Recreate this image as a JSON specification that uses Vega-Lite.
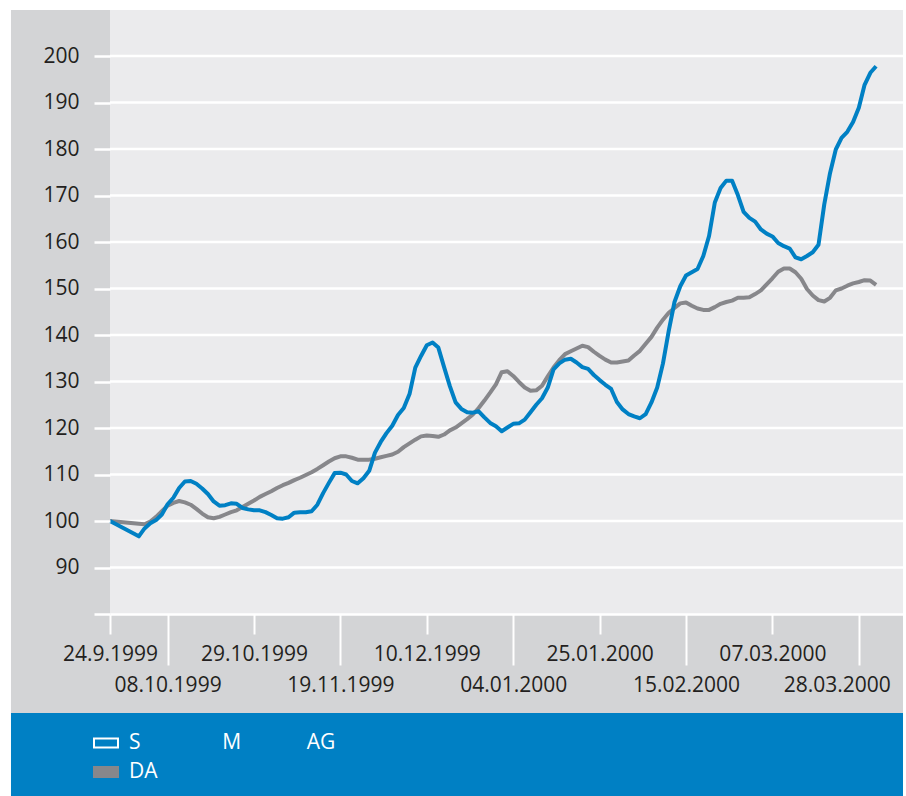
{
  "$schema": "https://vega.github.io/schema/vega-lite/v6.json",
  "autosize": "none",
  "width": 793,
  "height": 604,
  "padding": {"left": 110, "top": 10, "right": 3, "bottom": 182},
  "background": "white",
  "config": {
    "view": {"fill": "#ebebed", "stroke": null},
    "font": "Open Sans"
  },
  "resolve": {"scale": {"fill": "independent"}},
  "layer": [
    {
      "data": {"values": [{}]},
      "mark": {"type": "rect", "color": "#d3d4d6"},
      "encoding": {
        "x": {"datum": -17.19, "type": "quantitative", "scale": {"domain": [0, 137.67], "nice": false, "zero": false}},
        "x2": {"datum": 0},
        "y": {"datum": 58.71, "type": "quantitative", "scale": {"domain": [80, 209.9], "nice": false, "zero": false}},
        "y2": {"datum": 209.9}
      }
    },
    {
      "data": {"values": [{}]},
      "mark": {"type": "rect", "color": "#d3d4d6"},
      "encoding": {
        "x": {"datum": 0, "type": "quantitative"},
        "x2": {"datum": 137.67},
        "y": {"datum": 58.71, "type": "quantitative"},
        "y2": {"datum": 80}
      }
    },
    {
      "data": {"values": [{}]},
      "mark": {"type": "rect", "color": "#ebebed"},
      "encoding": {
        "x": {"datum": 0, "type": "quantitative"},
        "x2": {"datum": 137.67},
        "y": {"datum": 80, "type": "quantitative"},
        "y2": {"datum": 209.9}
      }
    },
    {
      "data": {"values": [{}]},
      "mark": {"type": "rect", "color": "#0080c4"},
      "encoding": {
        "x": {"datum": -17.19, "type": "quantitative"},
        "x2": {"datum": 137.67},
        "y": {"datum": 40, "type": "quantitative"},
        "y2": {"datum": 58.71}
      }
    },
    {
      "data": {"values": [{"g": 90}, {"g": 100}, {"g": 110}, {"g": 120}, {"g": 130}, {"g": 140}, {"g": 150}, {"g": 160}, {"g": 170}, {"g": 180}, {"g": 190}, {"g": 200}]},
      "mark": {"type": "rule", "color": "white", "strokeWidth": 2.5},
      "encoding": {
        "y": {"field": "g", "type": "quantitative"}
      }
    },
    {
      "data": {"values": [{"series": "SMAG"}]},
      "mark": {"type": "point", "filled": true, "size": 0, "opacity": 1},
      "encoding": {
        "fill": {
          "field": "series", "type": "nominal",
          "scale": {"domain": ["SMAG"], "range": ["#ffffff"]},
          "legend": {
            "orient": "none",
            "legendX": -17,
            "legendY": 720,
            "title": null,
            "padding": 0,
            "symbolType": "M-1.083,-0.458H1.083V0.458H-1.083Z M-0.917,-0.292V0.292H0.917V-0.292Z",
            "symbolSize": 576,
            "symbolOpacity": 1,
            "labelOffset": 10,
            "labelFont": "Open Sans",
            "labelFontSize": 21,
            "labelColor": "white",
            "labelLimit": 600,
            "labelExpr": "'S\u00a0\u00a0\u00a0\u00a0\u00a0\u00a0\u00a0\u00a0\u00a0\u00a0\u00a0\u00a0\u00a0\u00a0\u00a0M\u00a0\u00a0\u00a0\u00a0\u00a0\u00a0\u00a0\u00a0\u00a0\u00a0\u00a0\u00a0AG'",
            "zindex": 1
          }
        }
      }
    },
    {
      "data": {"values": [{"series": "DA"}]},
      "mark": {"type": "point", "filled": true, "size": 0, "opacity": 1},
      "encoding": {
        "fill": {
          "field": "series", "type": "nominal",
          "scale": {"domain": ["DA"], "range": ["#87878b"]},
          "legend": {
            "orient": "none",
            "legendX": -17,
            "legendY": 749,
            "title": null,
            "padding": 0,
            "symbolType": "M-1.083,-0.5H1.083V0.5H-1.083Z",
            "symbolSize": 576,
            "symbolOpacity": 1,
            "labelOffset": 10,
            "labelFont": "Open Sans",
            "labelFontSize": 21,
            "labelColor": "white",
            "labelLimit": 600,
            "zindex": 1
          }
        }
      }
    },
    {
      "data": {"values": [
        {"t":0,"SMAG":100,"DA":100},
        {"t":5,"SMAG":96.7,"DA":99.4},
        {"t":6,"SMAG":98.4,"DA":99.3},
        {"t":7,"SMAG":99.5,"DA":99.9},
        {"t":8,"SMAG":100.2,"DA":100.9},
        {"t":9,"SMAG":101.4,"DA":102.1},
        {"t":10,"SMAG":103.6,"DA":103.3},
        {"t":11,"SMAG":105.0,"DA":103.9},
        {"t":12,"SMAG":107.1,"DA":104.3},
        {"t":13,"SMAG":108.5,"DA":104.0},
        {"t":14,"SMAG":108.6,"DA":103.5},
        {"t":15,"SMAG":108.0,"DA":102.6},
        {"t":16,"SMAG":107.0,"DA":101.6},
        {"t":17,"SMAG":105.8,"DA":100.8},
        {"t":18,"SMAG":104.2,"DA":100.6},
        {"t":19,"SMAG":103.3,"DA":100.9},
        {"t":20,"SMAG":103.4,"DA":101.4},
        {"t":21,"SMAG":103.8,"DA":101.9},
        {"t":22,"SMAG":103.7,"DA":102.3},
        {"t":23,"SMAG":102.8,"DA":103.0},
        {"t":24,"SMAG":102.5,"DA":103.7},
        {"t":25,"SMAG":102.3,"DA":104.4},
        {"t":26,"SMAG":102.3,"DA":105.2},
        {"t":27,"SMAG":101.9,"DA":105.8},
        {"t":28,"SMAG":101.3,"DA":106.4},
        {"t":29,"SMAG":100.6,"DA":107.1},
        {"t":30,"SMAG":100.5,"DA":107.7},
        {"t":31,"SMAG":100.8,"DA":108.2},
        {"t":32,"SMAG":101.8,"DA":108.8},
        {"t":33,"SMAG":101.9,"DA":109.3},
        {"t":34,"SMAG":101.9,"DA":109.9},
        {"t":35,"SMAG":102.1,"DA":110.5},
        {"t":36,"SMAG":103.5,"DA":111.2},
        {"t":37,"SMAG":106.0,"DA":112.0},
        {"t":38,"SMAG":108.2,"DA":112.8},
        {"t":39,"SMAG":110.3,"DA":113.5},
        {"t":40,"SMAG":110.4,"DA":113.9},
        {"t":41,"SMAG":110.0,"DA":113.9},
        {"t":42,"SMAG":108.6,"DA":113.6},
        {"t":43,"SMAG":108.1,"DA":113.2},
        {"t":44,"SMAG":109.2,"DA":113.2},
        {"t":45,"SMAG":110.8,"DA":113.2},
        {"t":46,"SMAG":114.7,"DA":113.4},
        {"t":47,"SMAG":117.0,"DA":113.7},
        {"t":48,"SMAG":118.9,"DA":114.0},
        {"t":49,"SMAG":120.5,"DA":114.3},
        {"t":50,"SMAG":122.8,"DA":114.9},
        {"t":51,"SMAG":124.3,"DA":115.9},
        {"t":52,"SMAG":127.3,"DA":116.7},
        {"t":53,"SMAG":133.0,"DA":117.5},
        {"t":54,"SMAG":135.5,"DA":118.2},
        {"t":55,"SMAG":137.8,"DA":118.4},
        {"t":56,"SMAG":138.4,"DA":118.3},
        {"t":57,"SMAG":137.3,"DA":118.1},
        {"t":58,"SMAG":133.1,"DA":118.6},
        {"t":59,"SMAG":129.0,"DA":119.5},
        {"t":60,"SMAG":125.5,"DA":120.1},
        {"t":61,"SMAG":124.1,"DA":121.0},
        {"t":62,"SMAG":123.4,"DA":121.9},
        {"t":63,"SMAG":123.3,"DA":122.9},
        {"t":64,"SMAG":123.6,"DA":124.3},
        {"t":65,"SMAG":122.3,"DA":125.9},
        {"t":66,"SMAG":121.1,"DA":127.6},
        {"t":67,"SMAG":120.4,"DA":129.4},
        {"t":68,"SMAG":119.3,"DA":132.0},
        {"t":69,"SMAG":120.1,"DA":132.2},
        {"t":70,"SMAG":120.9,"DA":131.2},
        {"t":71,"SMAG":121.0,"DA":129.9},
        {"t":72,"SMAG":121.8,"DA":128.7},
        {"t":73,"SMAG":123.4,"DA":128.0},
        {"t":74,"SMAG":125.0,"DA":128.1},
        {"t":75,"SMAG":126.4,"DA":129.1},
        {"t":76,"SMAG":128.7,"DA":131.1},
        {"t":77,"SMAG":132.6,"DA":133.0},
        {"t":78,"SMAG":133.9,"DA":134.6},
        {"t":79,"SMAG":134.7,"DA":135.9},
        {"t":80,"SMAG":134.9,"DA":136.5},
        {"t":81,"SMAG":134.1,"DA":137.1},
        {"t":82,"SMAG":133.1,"DA":137.7},
        {"t":83,"SMAG":132.7,"DA":137.4},
        {"t":84,"SMAG":131.4,"DA":136.4},
        {"t":85,"SMAG":130.3,"DA":135.5},
        {"t":86,"SMAG":129.3,"DA":134.7},
        {"t":87,"SMAG":128.4,"DA":134.1},
        {"t":88,"SMAG":125.6,"DA":134.1},
        {"t":89,"SMAG":124.0,"DA":134.3},
        {"t":90,"SMAG":123.0,"DA":134.5},
        {"t":91,"SMAG":122.5,"DA":135.6},
        {"t":92,"SMAG":122.1,"DA":136.6},
        {"t":93,"SMAG":123.0,"DA":138.1},
        {"t":94,"SMAG":125.5,"DA":139.6},
        {"t":95,"SMAG":128.7,"DA":141.6},
        {"t":96,"SMAG":133.9,"DA":143.3},
        {"t":97,"SMAG":140.9,"DA":144.8},
        {"t":98,"SMAG":147.1,"DA":145.8},
        {"t":99,"SMAG":150.5,"DA":146.8},
        {"t":100,"SMAG":152.8,"DA":147.0},
        {"t":101,"SMAG":153.5,"DA":146.3},
        {"t":102,"SMAG":154.2,"DA":145.7},
        {"t":103,"SMAG":157.0,"DA":145.4},
        {"t":104,"SMAG":161.3,"DA":145.4},
        {"t":105,"SMAG":168.5,"DA":146.0},
        {"t":106,"SMAG":171.6,"DA":146.7},
        {"t":107,"SMAG":173.2,"DA":147.1},
        {"t":108,"SMAG":173.2,"DA":147.4},
        {"t":109,"SMAG":170.1,"DA":148.0},
        {"t":110,"SMAG":166.5,"DA":148.0},
        {"t":111,"SMAG":165.2,"DA":148.1},
        {"t":112,"SMAG":164.4,"DA":148.8},
        {"t":113,"SMAG":162.7,"DA":149.6},
        {"t":114,"SMAG":161.8,"DA":150.9},
        {"t":115,"SMAG":161.2,"DA":152.2},
        {"t":116,"SMAG":159.8,"DA":153.6},
        {"t":117,"SMAG":159.1,"DA":154.3},
        {"t":118,"SMAG":158.6,"DA":154.3},
        {"t":119,"SMAG":156.7,"DA":153.5},
        {"t":120,"SMAG":156.3,"DA":152.1},
        {"t":121,"SMAG":157.0,"DA":149.9},
        {"t":122,"SMAG":157.8,"DA":148.5},
        {"t":123,"SMAG":159.4,"DA":147.5},
        {"t":124,"SMAG":168.1,"DA":147.2},
        {"t":125,"SMAG":174.8,"DA":148.0},
        {"t":126,"SMAG":179.9,"DA":149.6},
        {"t":127,"SMAG":182.4,"DA":150.0},
        {"t":128,"SMAG":183.7,"DA":150.6},
        {"t":129,"SMAG":185.8,"DA":151.1},
        {"t":130,"SMAG":188.9,"DA":151.4},
        {"t":131,"SMAG":193.8,"DA":151.8},
        {"t":132,"SMAG":196.4,"DA":151.7},
        {"t":133,"SMAG":197.8,"DA":150.8}
      ]},
      "transform": [{"fold": ["DA", "SMAG"], "as": ["series", "value"]}],
      "mark": {"type": "line", "strokeWidth": 4, "strokeJoin": "round"},
      "encoding": {
        "x": {
          "field": "t", "type": "quantitative",
          "axis": {
            "values": [0, 10, 25, 40, 55, 70, 85, 100, 115, 130],
            "labelExpr": "['24.9.1999','08.10.1999','29.10.1999','19.11.1999','10.12.1999','04.01.2000','25.01.2000','15.02.2000','07.03.2000','28.03.2000'][indexof([0,10,25,40,55,70,85,100,115,130], datum.value)]",
            "title": null,
            "grid": false,
            "domainColor": "white",
            "domainWidth": 2.5,
            "tickColor": "white",
            "tickWidth": 2,
            "tickSize": {"condition": {"test": "indexof([10,40,70,100,130], datum.value) >= 0", "value": 51}, "value": 20},
            "labelOffset": {"condition": {"test": "datum.value == 130", "value": -22}, "value": 0},
            "labelPadding": 9,
            "labelFont": "Open Sans",
            "labelFontSize": 21,
            "labelColor": "#231f20",
            "labelOverlap": false,
            "labelFlush": false,
            "labelBound": false,
            "zindex": 1
          }
        },
        "y": {
          "field": "value", "type": "quantitative",
          "axis": {
            "values": [80, 90, 100, 110, 120, 130, 140, 150, 160, 170, 180, 190, 200],
            "labelExpr": "datum.value == 80 ? '' : datum.label",
            "title": null,
            "grid": false,
            "domain": false,
            "tickColor": "white",
            "tickWidth": 2.5,
            "tickSize": 16,
            "labelPadding": 15,
            "labelFont": "Open Sans",
            "labelFontSize": 21,
            "labelColor": "#231f20",
            "labelOverlap": false,
            "zindex": 1
          }
        },
        "color": {
          "field": "series", "type": "nominal",
          "scale": {"domain": ["SMAG", "DA"], "range": ["#0080c4", "#87878b"]},
          "legend": null
        }
      }
    }
  ]
}
